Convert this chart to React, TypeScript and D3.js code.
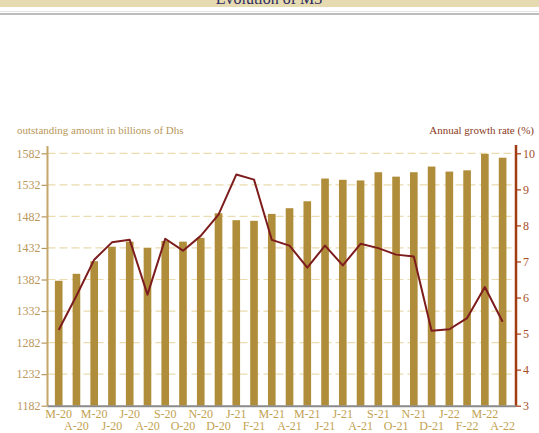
import { useEffect, useRef } from 'react';
import * as d3 from 'd3';

const months = ['M-20', 'A-20', 'M-20', 'J-20', 'J-20', 'A-20', 'S-20', 'O-20', 'N-20', 'D-20',
  'J-21', 'F-21', 'M-21', 'A-21', 'M-21', 'J-21', 'J-21', 'A-21', 'S-21', 'O-21', 'N-21', 'D-21',
  'J-22', 'F-22', 'M-22', 'A-22'];
const outstanding = [1380, 1391, 1411, 1434, 1442, 1432, 1443, 1442, 1448, 1487,
  1476, 1475, 1486, 1495, 1506, 1542, 1540, 1539, 1552, 1545, 1552, 1561,
  1553, 1555, 1581, 1575];
const growthRate = [5.1, 6.05, 7.05, 7.53, 7.6, 6.08, 7.63, 7.3, 7.71, 8.3,
  9.41, 9.27, 7.6, 7.44, 6.83, 7.44, 6.89, 7.49, 7.37, 7.19, 7.14, 5.08,
  5.12, 5.43, 6.29, 5.33];
const leftTicks = [1182, 1232, 1282, 1332, 1382, 1432, 1482, 1532, 1582];
const rightTicks = [3, 4, 5, 6, 7, 8, 9, 10];

export default function App() {
  const svgRef = useRef<SVGSVGElement>(null);

  useEffect(() => {
    if (!svgRef.current) return;
    const width = 539;
    const height = 433;
    const left = 47.5;
    const right = 516;
    const top = 153.3;
    const bottom = 405.7;
    const font = "'Liberation Serif', 'Times New Roman', serif";
    const tan = '#b9975b';

    const svg = d3.select(svgRef.current);
    svg.selectAll('*').remove();
    svg.attr('width', width).attr('height', height);

    svg.append('rect').attr('width', width).attr('height', height).attr('fill', '#fff');

    // title banner, cut off at the top like the source
    svg.append('rect').attr('x', 0).attr('y', 0).attr('width', width).attr('height', 7).attr('fill', '#e6dbb0');
    svg.append('text')
      .attr('x', 269).attr('y', 3.5)
      .attr('text-anchor', 'middle')
      .style('font-family', font).style('font-size', '16px')
      .style('fill', '#2c2a5e')
      .text('Evolution of M3');
    svg.append('rect').attr('x', 0).attr('y', 11).attr('width', width).attr('height', 1).attr('fill', '#e6e6e6');
    svg.append('rect').attr('x', 0).attr('y', 13).attr('width', width).attr('height', 2).attr('fill', '#bdbdbd');

    const x = d3.scaleBand<number>()
      .domain(d3.range(months.length))
      .range([49.9, 511.4])
      .paddingInner(0.57)
      .paddingOuter(0.28);

    const y = d3.scaleLinear().domain([1182, 1582]).range([bottom, top]);
    const y2 = d3.scaleLinear().domain([3, 10]).range([bottom, top]);

    // grid
    svg.append('g')
      .selectAll('line')
      .data(leftTicks.slice(1))
      .join('line')
      .attr('x1', left).attr('x2', right)
      .attr('y1', d => y(d)).attr('y2', d => y(d))
      .attr('stroke', '#eadcae')
      .attr('stroke-width', 1.2)
      .attr('stroke-dasharray', '8,4');

    // bars
    svg.append('g')
      .selectAll('rect')
      .data(outstanding)
      .join('rect')
      .attr('x', (_, i) => x(i) ?? 0)
      .attr('width', x.bandwidth())
      .attr('y', d => y(d))
      .attr('height', d => bottom - y(d))
      .attr('fill', '#b08d3a');

    // growth rate line
    const line = d3.line<number>()
      .x((_, i) => (x(i) ?? 0) + x.bandwidth() / 2)
      .y(d => y2(d));
    svg.append('path')
      .datum(growthRate)
      .attr('d', line)
      .attr('fill', 'none')
      .attr('stroke', '#7d1c1c')
      .attr('stroke-width', 2)
      .attr('stroke-linejoin', 'round');

    // left axis
    const gl = svg.append('g').attr('transform', `translate(${left},0)`);
    gl.call(d3.axisLeft(y).tickValues(leftTicks).tickSize(6).tickFormat(d3.format('d')));
    gl.select('.domain').remove();
    gl.selectAll('.tick line').attr('stroke', tan).attr('stroke-width', 1.2);
    gl.selectAll('.tick text')
      .attr('x', -7)
      .style('font-family', font).style('font-size', '12px').style('fill', tan);
    gl.append('line').attr('x1', 0).attr('x2', 0).attr('y1', 146).attr('y2', bottom)
      .attr('stroke', '#c4a66a').attr('stroke-width', 2);

    // right axis
    const gr = svg.append('g').attr('transform', `translate(${right},0)`);
    gr.call(d3.axisRight(y2).tickValues(rightTicks).tickSize(5).tickFormat(d3.format('d')));
    gr.select('.domain').remove();
    gr.selectAll('.tick line').attr('stroke', '#a23a12').attr('stroke-width', 1.2);
    gr.selectAll('.tick text')
      .attr('x', 7)
      .style('font-family', font).style('font-size', '12px').style('fill', '#a6502a');
    gr.append('line').attr('x1', 0).attr('x2', 0).attr('y1', 145).attr('y2', bottom)
      .attr('stroke', '#a23a12').attr('stroke-width', 2.5);

    // baseline
    svg.append('line')
      .attr('x1', left).attr('x2', right)
      .attr('y1', bottom + 0.5).attr('y2', bottom + 0.5)
      .attr('stroke', '#8a8a8a').attr('stroke-width', 2);

    // x labels, staggered on two rows
    svg.append('g')
      .selectAll('text')
      .data(months)
      .join('text')
      .attr('x', (_, i) => (x(i) ?? 0) + x.bandwidth() / 2)
      .attr('y', (_, i) => (i % 2 === 0 ? 417.5 : 430))
      .attr('text-anchor', 'middle')
      .style('font-family', font).style('font-size', '12px').style('fill', '#c1a250')
      .text(d => d);

    // axis titles
    svg.append('text')
      .attr('x', 17).attr('y', 134)
      .style('font-family', font).style('font-size', '11px').style('fill', tan)
      .text('outstanding amount in billions of Dhs');
    svg.append('text')
      .attr('x', 534).attr('y', 134)
      .attr('text-anchor', 'end')
      .style('font-family', font).style('font-size', '11px').style('fill', '#8a3a22')
      .text('Annual growth rate (%)');
  }, []);

  return (
    <div style={{ position: 'absolute', left: 0, top: 0 }}>
      <svg ref={svgRef}></svg>
    </div>
  );
}
